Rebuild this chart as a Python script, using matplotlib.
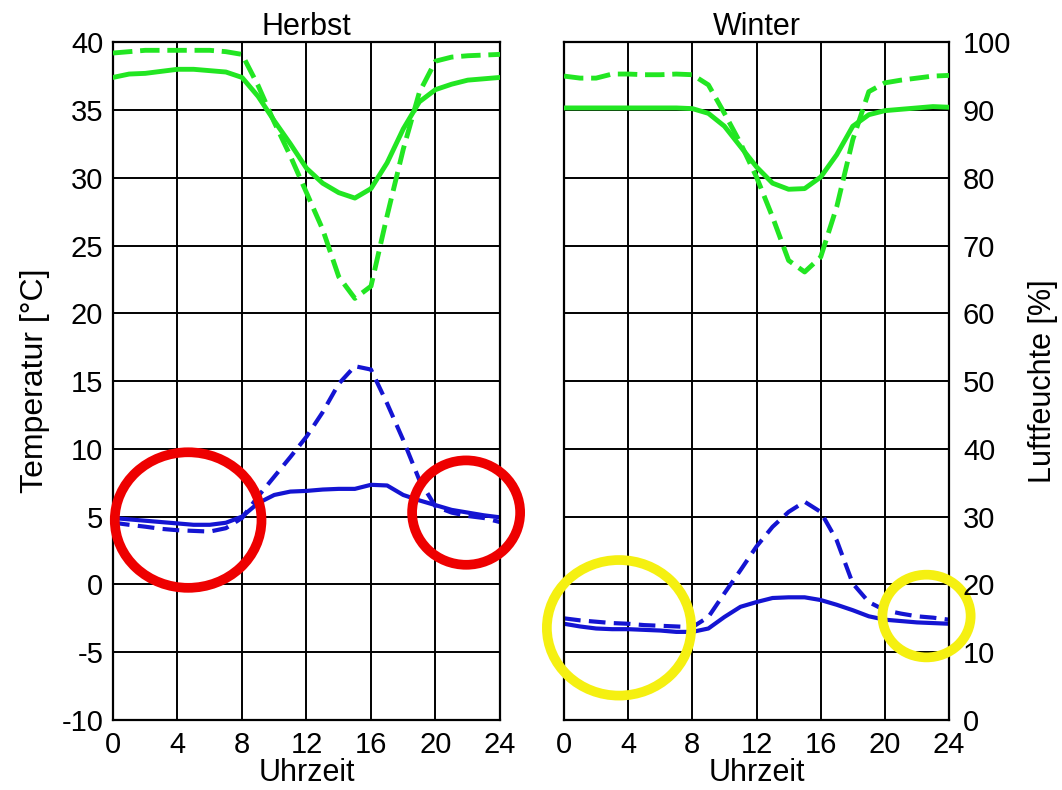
import matplotlib
matplotlib.use('Agg')
import matplotlib.pyplot as plt
from matplotlib.patches import Ellipse

plt.rcParams['font.family'] = ['Liberation Sans', 'DejaVu Sans']
plt.rcParams['axes.unicode_minus'] = False

# Uhrzeit [h]
hours = [0, 1, 2, 3, 4, 5, 6, 7, 8, 9, 10, 11, 12, 13, 14, 15, 16, 17, 18, 19, 20, 21, 22, 23, 24]

# Herbst - Temperatur [°C]
herbst_temp_solid = [4.9, 4.8, 4.7, 4.6, 4.5, 4.4, 4.4, 4.55, 5.0, 6.0, 6.6, 6.85, 6.9, 7.0, 7.05, 7.05,
                     7.35, 7.3, 6.6, 6.2, 5.85, 5.5, 5.3, 5.1, 4.95]
herbst_temp_dashed = [4.56, 4.4, 4.26, 4.1, 4.0, 3.95, 3.9, 4.15, 4.9, 6.5, 7.95, 9.4, 10.9, 12.7, 14.8, 16.1,
                      15.85, 13.35, 10.65, 7.7, 5.75, 5.3, 5.05, 4.9, 4.6]
# Herbst - Luftfeuchte [%]
herbst_rh_solid = [94.8, 95.3, 95.4, 95.7, 96.0, 96.0, 95.8, 95.6, 94.8, 92.0, 88.4, 85.0, 81.4, 79.2, 77.8, 77.0,
                   78.4, 82.2, 87.2, 91.2, 93.0, 93.8, 94.4, 94.6, 94.8]
herbst_rh_dashed = [98.4, 98.6, 98.8, 98.8, 98.8, 98.8, 98.8, 98.6, 98.2, 93.6, 88.2, 83.2, 77.8, 72.4, 65.4, 62.2,
                    64.0, 74.4, 84.2, 92.6, 97.2, 97.8, 98.0, 98.1, 98.2]

# Winter - Temperatur [°C]
winter_temp_solid = [-2.9, -3.1, -3.25, -3.3, -3.3, -3.35, -3.4, -3.5, -3.5, -3.25, -2.4, -1.65, -1.3, -1.0, -0.95,
                     -0.95, -1.15, -1.5, -1.9, -2.35, -2.6, -2.7, -2.8, -2.85, -2.9]
winter_temp_dashed = [-2.5, -2.65, -2.75, -2.85, -2.9, -3.0, -3.05, -3.1, -3.15, -2.4, -0.65, 1.05, 2.8, 4.25, 5.35,
                      6.1, 5.35, 3.25, 0.07, -1.3, -1.9, -2.15, -2.35, -2.45, -2.6]
# Winter - Luftfeuchte [%]
winter_rh_solid = [90.3, 90.3, 90.3, 90.3, 90.3, 90.3, 90.3, 90.3, 90.2, 89.5, 87.6, 84.6, 81.6, 79.2, 78.3, 78.4,
                   80.1, 83.4, 87.6, 89.3, 89.9, 90.1, 90.3, 90.5, 90.4]
winter_rh_dashed = [95.0, 94.7, 94.7, 95.3, 95.3, 95.2, 95.2, 95.3, 95.2, 93.7, 89.5, 85.1, 80.1, 74.2, 67.8, 66.1,
                    68.3, 75.7, 85.6, 92.7, 94.0, 94.4, 94.7, 95.0, 95.1]

x_ticks = [0, 4, 8, 12, 16, 20, 24]
temp_ticks = [-10, -5, 0, 5, 10, 15, 20, 25, 30, 35, 40]
rh_ticks = [0, 10, 20, 30, 40, 50, 60, 70, 80, 90, 100]

green = '#22e622'
blue = '#1414d2'
fs = 21

fig = plt.figure(figsize=(10.62, 7.90), dpi=100)
ax_h = fig.add_axes([0.1064, 0.0886, 0.3644, 0.858])
ax_w = fig.add_axes([0.5311, 0.0886, 0.3625, 0.858])

panels = [
  (ax_h, 'Herbst', herbst_temp_solid, herbst_temp_dashed, herbst_rh_solid, herbst_rh_dashed),
  (ax_w, 'Winter', winter_temp_solid, winter_temp_dashed, winter_rh_solid, winter_rh_dashed),
]

for ax, title, t_s, t_d, rh_s, rh_d in panels:
  ax.set_xlim(0, 24)
  ax.set_ylim(-10, 40)
  ax.set_xticks(x_ticks)
  ax.set_yticks(temp_ticks)
  ax.grid(True, color='black', linewidth=1.4)
  ax.set_axisbelow(True)
  ax.tick_params(axis='y', length=0, labelsize=fs, pad=7)
  ax.tick_params(axis='x', length=0, labelsize=fs, pad=8)
  for sp in ax.spines.values():
    sp.set_linewidth(1.6)
  ax.set_title(title, fontsize=22, pad=4)
  ax.set_xlabel('Uhrzeit', fontsize=22, labelpad=-1)

  ax.plot(hours, t_s, color=blue, linewidth=3)
  ax.plot(hours, t_d, color=blue, linewidth=3, dashes=(4, 2))

  tw = ax.twinx()
  tw.set_ylim(0, 100)
  tw.set_yticks(rh_ticks)
  tw.tick_params(length=0, labelsize=fs, pad=10)
  for sp in tw.spines.values():
    sp.set_visible(False)
  tw.plot(hours, rh_s, color=green, linewidth=3.5)
  tw.plot(hours, rh_d, color=green, linewidth=3.5, dashes=(4, 1.6))
  if ax is ax_h:
    tw.set_yticklabels([])
  else:
    tw.set_ylabel('Luftfeuchte [%]', fontsize=22, labelpad=12)

ax_h.set_ylabel('Temperatur [°C]', fontsize=23, labelpad=8)
ax_w.set_yticklabels([])

# Markierungen
circles = [
  (ax_h, 4.66, 4.75, 9.1, 10.0, '#ee0000'),
  (ax_h, 21.9, 5.3, 6.7, 7.7, '#ee0000'),
  (ax_w, 3.43, -3.2, 9.0, 10.0, '#f5f011'),
  (ax_w, 22.6, -2.33, 5.5, 6.1, '#f5f011'),
]
for ax, cx, cy, w, h, c in circles:
  e = Ellipse((cx, cy), w, h, fill=False, edgecolor=c, linewidth=7, clip_on=False, zorder=10)
  ax.add_patch(e)

fig.savefig('out.png', dpi=100)
